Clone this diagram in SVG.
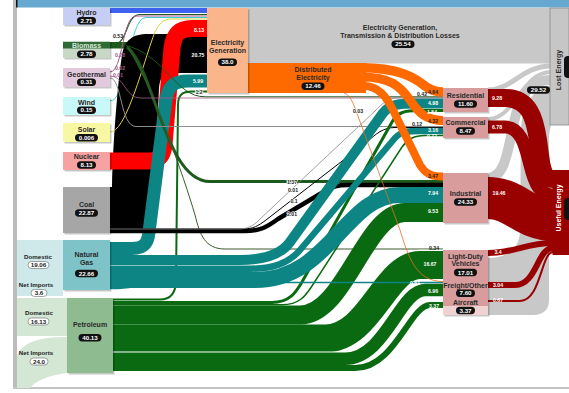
<svg xmlns="http://www.w3.org/2000/svg" width="569" height="393" viewBox="0 0 569 393">
<defs><style>
text{font-family:"Liberation Sans",Arial,sans-serif;font-weight:bold;text-anchor:middle}
.n{font-size:7px;fill:#2a2a2a}
.pl{fill:#111}
.pt{font-size:6.2px;fill:#fff}
.lp{fill:#fff;stroke:#666;stroke-width:.6}
.lt{font-size:6.2px;fill:#222}
.f{font-size:5.2px}
.fw{fill:#fff}
.fd{fill:#222}
.fh{fill:#222;stroke:#fff;stroke-width:1.4px;paint-order:stroke}
.c{fill:none;stroke-linecap:butt}
.sh{fill:#000;opacity:.22}
.gy{stroke:#c8c8c8}
.rd{stroke:#990000}
.tl{stroke:#0e8585}
.gr{stroke:#0a6a12}
.or{stroke:#ff6a00}
.bg{stroke:#1e5a1e}
.hw{stroke:#fff}
.sec{fill:#d89c9c}
</style></defs>
<rect width="569" height="393" fill="#fff"/>
<g id="connectors">
<path d="M248,8H551V63.5H248Z" fill="#c8c8c8"/>
<path class="c gy" d="M488,90C512,90 522,66 551,66" stroke-width="5"/>
<path class="c gy" d="M488,119C515,119 522,72 551,72" stroke-width="4"/>
<path class="c gy" d="M488,178C505,178 508,150 514,122C520,95 530,80 551,80" stroke-width="10"/>
<path d="M488,258C506,258 519,250 520,232L521,130C522,105 535,86 551,86L551,125L549,135L549,300C549,310 543,315 533,315L488,315Z" fill="#c8c8c8"/>
<path class="c" d="M110,10.5H207" stroke="#3d62f0" stroke-width="5"/>
<path class="c bg" d="M110,45.25H128" stroke-width="6.5"/>
<path class="c bg" d="M118,43C127,40 127,14.5 140,14.5H207" stroke-width="1.2"/>
<path class="c" d="M110,72C123,72 122,16 136,16H207" stroke="#a55a8c" stroke-width="1"/>
<path class="c" d="M110,101C128,101 128,17.5 146,17.5H207" stroke="#40d0d0" stroke-width="1"/>
<path d="M110,187L112,187C113,140 118,80 122,55C125,40 132,34 148,34L207,34L207,73L170,73C163,73 160,78 159,88L154,205C152,225 145,233 130,233L110,233Z" fill="#000"/>
<path class="c" d="M110,132C125,132 140,75 152,40C157,25 162,19 172,19H207" stroke="#e0d040" stroke-width="1"/>
<path class="c" d="M110,161H148C160,161 163,155 164,145L172,48C174,33 180,28.5 192,28.5H207" stroke="#ff0000" stroke-width="17"/>
<path class="c tl" d="M110,248.5H132C145,248.5 148,242 149,232L166,100C168,86 174,81 188,81H207" stroke-width="13"/>
<path class="c gr" d="M113,299.5H160C172,299.5 176,292 176,280L178,105C178,95 182,91.5 192,91.5H207" stroke-width="2"/>
<path class="c bg" d="M126,45.5C165,55 175,96.8 205,96.8H443" stroke-width="1"/>
<path class="c bg" d="M127,47C155,70 165,181.5 210,181.5H443" stroke-width="3"/>
<path class="c" d="M128,48C150,80 185,180 195,215C200,235 205,249 225,249H443" stroke="#3c5a2a" stroke-width="1"/>
<path class="c" d="M110,76C125,76 125,98 140,98H443" stroke="#a55a8c" stroke-width=".8"/>
<path class="c" d="M110,78C122,78 120,126.5 136,126.5H443" stroke="#8c8c8c" stroke-width="1"/>
<path class="c" d="M110,231H245C262,231 268,226 278,219L325,191C333,186.5 337,185 348,185H443" stroke="#000" stroke-width="4.5"/>
<path class="c" d="M110,229H243C253,229 258,226 266,220L368,141C376,134 383,127.5 395,127.5H443" stroke="#000" stroke-width="1"/>
<path class="c" d="M110,229H238C248,229 253,226 259,220L375,111C382,104 388,97.5 400,97.5H443" stroke="#888" stroke-width=".8"/>
<path class="c gr" d="M113,315H300C345,315 365,212.5 405,212.5H443" stroke-width="19"/>
<path class="c hw" d="M325,338.5C370,338.5 385,265 420,265H443" stroke-width="30.5"/>
<path class="c gr" d="M113,338.5H325C370,338.5 385,265 420,265H443" stroke-width="28"/>
<path class="c hw" d="M113,358.75H345C385,358.75 400,290 425,290H443" stroke-width="14.5"/>
<path class="c gr" d="M113,358.75H345C385,358.75 400,290 425,290H443" stroke-width="12.5"/>
<path class="c hw" d="M355,368C395,368 410,305 430,305H443" stroke-width="8"/>
<path class="c gr" d="M113,368H355C395,368 410,305 430,305H443" stroke-width="6"/>
<path class="c gr" d="M113,302.5H272C290,302.5 296,292 302,282L392,122C398,112 405,110.5 418,110.5H443" stroke-width="3"/>
<path class="c gr" d="M113,304.75H282C300,304.75 306,295 312,286L402,147C408,139 414,135.5 425,135.5H443" stroke-width="1.5"/>
<path class="c tl" d="M110,260H240C262,260 280,256 290,242L383,113C390,104 400,103.5 415,103.5H443" stroke-width="10"/>
<path class="c tl" d="M110,268.75H250C272,268.75 288,264 300,250L395,138C401,131 410,131 420,131H443" stroke-width="6.5"/>
<path class="c tl" d="M110,280H255C330,280 345,195 400,195H443" stroke-width="16"/>
<path class="c tl" d="M110,288.7C140,288.7 150,282.5 180,282.5H443" stroke-width="1.3"/>
<path class="c or" d="M248,78H366" stroke-width="30"/>
<path class="c or" d="M360,67.75C400,67.75 415,78 425,86C431,90.5 436,92 443,92" stroke-width="9.5"/>
<path class="c or" d="M362,77C390,77 400,86 410,100C418,112 426,120.5 443,120.5" stroke-width="9"/>
<path class="c or" d="M364,86C378,86 386,96 393,110L420,165C425,173 430,176.5 443,176.5" stroke-width="8"/>
<path class="c" d="M340,92C348,92 352,100 355,108L400,230C408,255 415,281.5 443,281.5" stroke="#e07020" stroke-width=".8"/>
<path class="c rd" d="M488,98H505C530,98 535,120 538,140L541,162C543,174 546,179 553,179" stroke-width="18"/>
<path class="c rd" d="M488,127H505C522,127 526,150 530,165C535,185 540,195 553,195" stroke-width="13"/>
<path class="c rd" d="M488,198C515,198 525,220 553,220" stroke-width="42"/>
<path class="c rd" d="M488,253C515,253 525,243 553,243" stroke-width="6"/>
<path class="c rd" d="M488,285H515C537,285 537,248 553,248" stroke-width="6"/>
<path class="c rd" d="M488,301H520C541,301 541,252 553,252" stroke-width="2"/>
</g>
<g id="frame">
<rect x="13" y="0" width="4" height="389" fill="#bdbdbd"/>
<rect x="13" y="387" width="556" height="2" fill="#c4c4c4"/>
<rect x="17" y="0" width="552" height="7.5" fill="#66a8d0"/>
<rect x="16" y="0" width="1.5" height="7.5" fill="#111"/>
</g>
<g id="hydro"><rect class="sh" x="64.5" y="9.5" width="47" height="17"/><rect x="63" y="8" width="47" height="17" fill="#c6cef5"/><text class="n" x="86.5" y="15">Hydro</text><rect class="pl" x="77" y="17" width="19" height="7.5" rx="3.7"/><text class="pt" x="86.5" y="22.9">2.71</text></g>
<g id="biomass"><rect class="sh" x="64.5" y="42.5" width="47" height="17"/><rect x="63" y="41" width="47" height="17" fill="#c8d8c6"/><rect x="63" y="42" width="47" height="6.5" fill="#2f6a36"/><text class="n" x="86.5" y="48" style="fill:#d6e4d6">Biomass</text><rect class="pl" x="77" y="50.5" width="19" height="7.5" rx="3.7"/><text class="pt" x="86.5" y="56.4">2.78</text></g>
<g id="geothermal"><rect class="sh" x="64.5" y="69.5" width="47" height="19"/><rect x="63" y="68" width="47" height="19" fill="#e3c9dd"/><text class="n" x="86.5" y="76.5">Geothermal</text><rect class="pl" x="77" y="78.5" width="19" height="7.5" rx="3.7"/><text class="pt" x="86.5" y="84.4">0.31</text></g>
<g id="wind"><rect class="sh" x="64.5" y="98.5" width="47" height="18"/><rect x="63" y="97" width="47" height="18" fill="#c9f8f8"/><text class="n" x="86.5" y="104.5">Wind</text><rect class="pl" x="77" y="106.5" width="19" height="7.5" rx="3.7"/><text class="pt" x="86.5" y="112.4">0.15</text></g>
<g id="solar"><rect class="sh" x="64.5" y="124.5" width="47" height="19"/><rect x="63" y="123" width="47" height="19" fill="#f8f8a2"/><text class="n" x="86.5" y="131.5">Solar</text><rect class="pl" x="75" y="134" width="23" height="7.5" rx="3.7"/><text class="pt" x="86.5" y="139.9">0.006</text></g>
<g id="nuclear"><rect class="sh" x="64.5" y="153.5" width="47" height="18"/><rect x="63" y="152" width="47" height="18" fill="#f7a2a2"/><text class="n" x="86.5" y="159">Nuclear</text><rect class="pl" x="77" y="161.3" width="19" height="7.5" rx="3.7"/><text class="pt" x="86.5" y="167.2">8.13</text></g>
<g id="coal"><rect class="sh" x="64.5" y="188.5" width="47" height="46"/><rect x="63" y="187" width="47" height="46" fill="#a6a6a6"/><text class="n" x="86.5" y="207">Coal</text><rect class="pl" x="75" y="209.3" width="23" height="7.5" rx="3.7"/><text class="pt" x="86.5" y="215.2">22.87</text></g>
<g id="ng-sources"><rect x="17" y="240" width="46" height="56" fill="#cfe9ea"/><text class="lt" x="38" y="258.5">Domestic</text><rect class="lp" x="28" y="261.5" width="21" height="7" rx="3.5"/><text class="lt" x="38.5" y="267.2">19.06</text><text class="lt" x="36" y="286.5">Net Imports</text><rect class="lp" x="31" y="289.5" width="16" height="7" rx="3.5"/><text class="lt" x="39" y="295.2">3.6</text></g>
<g id="natural-gas"><rect class="sh" x="64.5" y="241.5" width="47" height="50"/><rect x="63" y="240" width="47" height="50" fill="#7ec3c8"/><text class="n" x="86.5" y="257">Natural</text><text class="n" x="86.5" y="264.5">Gas</text><rect class="pl" x="75" y="269.8" width="23" height="7.5" rx="3.7"/><text class="pt" x="86.5" y="275.7">22.66</text></g>
<g id="petro-sources"><rect x="17" y="298" width="50" height="38" fill="#d4e6d4"/><path d="M17,388V356C22,342 40,337 67,337V373C45,376 35,382 30,388Z" fill="#d4e6d4"/><text class="lt" x="39" y="315">Domestic</text><rect class="lp" x="28" y="318" width="21" height="7" rx="3.5"/><text class="lt" x="38.5" y="323.7">16.13</text><text class="lt" x="36" y="355">Net Imports</text><rect class="lp" x="30" y="358" width="18" height="7" rx="3.5"/><text class="lt" x="39" y="363.7">24.0</text></g>
<g id="petroleum"><rect class="sh" x="68.5" y="299.5" width="46" height="75"/><rect x="67" y="298" width="46" height="75" fill="#8fbb91"/><text class="n" x="90" y="326.5">Petroleum</text><rect class="pl" x="78.5" y="334" width="23" height="7.5" rx="3.7"/><text class="pt" x="90" y="339.9">40.13</text></g>
<g id="electricity-generation"><rect class="sh" x="208.5" y="9.5" width="41" height="85"/><rect x="207" y="8" width="41" height="85" fill="#fbb58b"/><text class="n" x="227.5" y="45">Electricity</text><text class="n" x="227.5" y="53">Generation</text><rect class="pl" x="218" y="58.5" width="19" height="7.5" rx="3.7"/><text class="pt" x="227.5" y="64.4">38.0</text></g>
<g id="losses-label"><text class="n" x="400" y="30">Electricity Generation,</text><text class="n" x="400" y="38">Transmission &amp; Distribution Losses</text><rect class="pl" x="391.5" y="40.5" width="23" height="7.5" rx="3.7"/><text class="pt" x="403" y="46.4">25.54</text></g>
<g id="distributed-electricity"><text class="n" x="313" y="72">Distributed</text><text class="n" x="313" y="80">Electricity</text><rect class="pl" x="301.5" y="82.5" width="23" height="7.5" rx="3.7"/><text class="pt" x="313" y="88.4">12.46</text></g>
<g id="residential"><rect class="sh" x="444.5" y="89.5" width="45" height="24"/><rect class="sec" x="443" y="88" width="45" height="24"/><text class="n" x="465.5" y="97.5">Residential</text><rect class="pl" x="454" y="100.3" width="23" height="7.5" rx="3.7"/><text class="pt" x="465.5" y="106.2">11.60</text></g>
<g id="commercial"><rect class="sh" x="444.5" y="118.5" width="45" height="21"/><rect class="sec" x="443" y="117" width="45" height="21"/><text class="n" x="465.5" y="124.5">Commercial</text><rect class="pl" x="456" y="127.3" width="19" height="7.5" rx="3.7"/><text class="pt" x="465.5" y="133.2">8.47</text></g>
<g id="industrial"><rect class="sh" x="444.5" y="174.5" width="45" height="50"/><rect class="sec" x="443" y="173" width="45" height="50"/><text class="n" x="465.5" y="195.5">Industrial</text><rect class="pl" x="454" y="198.3" width="23" height="7.5" rx="3.7"/><text class="pt" x="465.5" y="204.2">24.33</text></g>
<g id="light-duty-vehicles"><rect class="sh" x="444.5" y="251.5" width="45" height="30"/><rect class="sec" x="443" y="250" width="45" height="30"/><text class="n" x="465.5" y="258.5">Light-Duty</text><text class="n" x="465.5" y="265.5">Vehicles</text><rect class="pl" x="454" y="268.8" width="23" height="7.5" rx="3.7"/><text class="pt" x="465.5" y="274.7">17.01</text></g>
<g id="freight-other"><rect class="sh" x="444.5" y="281.5" width="45" height="18"/><rect class="sec" x="443" y="280" width="45" height="18"/><text class="n" x="465.5" y="287.5">Freight/Other</text><rect class="pl" x="456" y="289.5" width="19" height="7.5" rx="3.7"/><text class="pt" x="465.5" y="295.4">7.60</text></g>
<g id="aircraft"><rect class="sh" x="444.5" y="299.5" width="45" height="17"/><rect class="sec" x="443" y="298" width="45" height="17"/><rect x="443" y="306" width="45" height="9" fill="#efd2d2"/><text class="n" x="465.5" y="304.5">Aircraft</text><rect class="pl" x="456" y="306.8" width="19" height="7.5" rx="3.7"/><text class="pt" x="465.5" y="312.7">3.37</text></g>
<g id="lost-energy"><rect x="550" y="8" width="19" height="117" fill="#c6c6c6" stroke="#8a8a8a" stroke-width=".8"/><text class="n" transform="translate(561,70) rotate(-90)">Lost Energy</text><rect class="pl" x="564" y="56" width="8" height="22" rx="4"/><rect class="pl" x="527" y="86.3" width="23" height="7.5" rx="3.7"/><text class="pt" x="538.5" y="92.2">29.52</text></g>
<g id="useful-energy"><rect x="552.5" y="170" width="16.5" height="85" fill="#990000"/><text class="n" transform="translate(561,208) rotate(-90)" style="fill:#fff">Useful Energy</text><rect class="pl" x="564" y="198" width="8" height="22" rx="4"/></g>
<g id="flow-labels">
<text class="f fd" x="118" y="37.5">0.53</text>
<text class="f" x="120" y="57" fill="#a55a8c">0.28</text>
<text class="f" x="120" y="70" fill="#a55a8c">0.02</text>
<text class="f" x="118" y="77" fill="#a55a8c">0.01</text>
<text class="f fw" x="199" y="31.5">8.13</text>
<text class="f fw" x="198" y="57">20.75</text>
<text class="f fw" x="198" y="82.5">5.99</text>
<text class="f fh" x="199" y="93.5">1.2</text>
<text class="f fh" x="358" y="113">0.03</text>
<text class="f fh" x="292" y="183.5">1.37</text>
<text class="f fh" x="293" y="192">0.01</text>
<text class="f fh" x="294" y="203">0.1</text>
<text class="f fh" x="292" y="215.5">2.01</text>
<text class="f fd" x="433" y="93.5">4.64</text>
<text class="f fd" x="422" y="96">0.42</text>
<text class="f fw" x="433" y="105">4.98</text>
<text class="f fw" x="432" y="113.5">1.54</text>
<text class="f fd" x="433" y="122.5">4.32</text>
<text class="f fd" x="417" y="126">0.12</text>
<text class="f fw" x="433" y="131.5">3.16</text>
<text class="f fw" x="432" y="138">0.77</text>
<text class="f fd" x="433" y="178">3.47</text>
<text class="f fw" x="433" y="195">7.94</text>
<text class="f fw" x="433" y="213">9.53</text>
<text class="f fd" x="434" y="250">0.34</text>
<text class="f fw" x="430" y="266">16.67</text>
<text class="f fw" x="415" y="284.5">0.61</text>
<text class="f fw" x="433" y="293">6.96</text>
<text class="f fw" x="434" y="307.5">3.37</text>
<text class="f fw" x="497" y="100">9.28</text>
<text class="f fw" x="497" y="129">6.78</text>
<text class="f fw" x="499" y="195">19.46</text>
<text class="f fw" x="498" y="254">3.4</text>
<text class="f fw" x="498" y="287">3.04</text>
<text class="f fw" x="498" y="302">0.67</text>
</g>
</svg>
